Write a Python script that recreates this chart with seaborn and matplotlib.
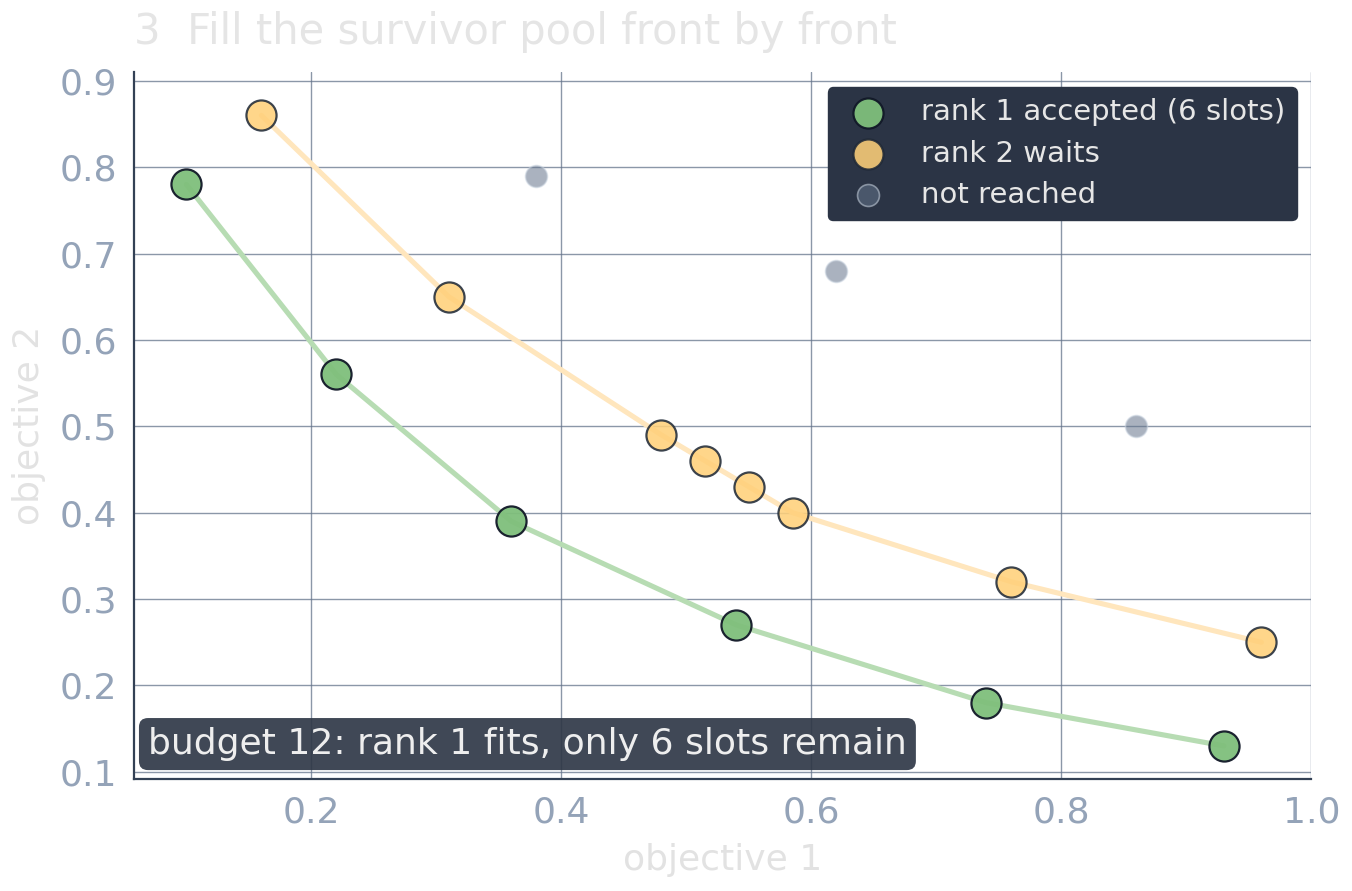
import matplotlib
matplotlib.use('Agg')
import matplotlib.pyplot as plt
import seaborn as sns
import pandas as pd

# rank 1 front (accepted)
rank1_x = [0.10, 0.22, 0.36, 0.54, 0.74, 0.93]
rank1_y = [0.78, 0.56, 0.39, 0.27, 0.18, 0.13]
# rank 2 front (waits)
rank2_x = [0.16, 0.31, 0.48, 0.515, 0.55, 0.585, 0.76, 0.96]
rank2_y = [0.86, 0.65, 0.49, 0.46, 0.43, 0.40, 0.32, 0.25]
# points never reached
rest_x = [0.38, 0.62, 0.86]
rest_y = [0.79, 0.68, 0.50]

x_ticks = [0.2, 0.4, 0.6, 0.8, 1.0]
y_ticks = [0.1, 0.2, 0.3, 0.4, 0.5, 0.6, 0.7, 0.8, 0.9]

sns.set_theme(style='whitegrid')
plt.rcParams['font.family'] = ['DejaVu Sans']

df1 = pd.DataFrame({'f1': rank1_x, 'f2': rank1_y})
df2 = pd.DataFrame({'f1': rank2_x, 'f2': rank2_y})
df3 = pd.DataFrame({'f1': rest_x, 'f2': rest_y})

fig = plt.figure(figsize=(13.52, 8.91), dpi=100)
ax = fig.add_axes([0.099, 0.126, 0.871, 0.793])

sns.lineplot(data=df1, x='f1', y='f2', color='#b7dcb3', linewidth=3.7, ax=ax, zorder=2)
sns.lineplot(data=df2, x='f1', y='f2', color='#ffe6bd', linewidth=3.7, ax=ax, zorder=2)

sns.scatterplot(data=df1, x='f1', y='f2', color='#7fbf7b', edgecolor='#111827', linewidth=1.6,
                s=470, alpha=0.95, ax=ax, zorder=4, label='rank 1 accepted (6 slots)')
sns.scatterplot(data=df2, x='f1', y='f2', color='#ffd079', edgecolor='#1f2937', linewidth=1.6,
                s=470, alpha=0.87, ax=ax, zorder=4, label='rank 2 waits')
sns.scatterplot(data=df3, x='f1', y='f2', color='#64748b', edgecolor='#cbd5e1', linewidth=1.2,
                s=250, alpha=0.55, ax=ax, zorder=3, label='not reached')

ax.set_xlim(0.058, 1.0)
ax.set_ylim(0.092, 0.91)
ax.set_xticks(x_ticks)
ax.set_yticks(y_ticks)
ax.set_xticklabels([f'{v:.1f}' for v in x_ticks])
ax.set_yticklabels([f'{v:.1f}' for v in y_ticks])

ax.grid(True, color='#64748b', alpha=0.75, linewidth=1.0)
ax.set_axisbelow(True)
for side in ['top', 'right']:
    ax.spines[side].set_visible(False)
for side in ['left', 'bottom']:
    ax.spines[side].set_color('#334155')
    ax.spines[side].set_linewidth(1.6)
ax.tick_params(axis='both', colors='#94a3b8', labelsize=26, length=7, width=1.4, pad=5)

ax.set_xlabel('objective 1', fontsize=26, color='#e2e2e2', labelpad=10)
ax.set_ylabel('objective 2', fontsize=26, color='#e2e2e2', labelpad=10)
ax.set_title('3  Fill the survivor pool front by front', loc='left', fontsize=30,
             color='#e5e5e5', pad=20)

leg = ax.legend(loc='upper right', fontsize=21, frameon=True, facecolor='#2b3445',
                edgecolor='#2b3445', framealpha=1.0, labelspacing=0.45)
for t in leg.get_texts():
    t.set_color('#e6e6e6')

ax.text(0.012, 0.025, 'budget 12: rank 1 fits, only 6 slots remain', transform=ax.transAxes,
        fontsize=26, color='#eeeeee', ha='left', va='bottom', zorder=6,
        bbox=dict(boxstyle='round,pad=0.25', facecolor='#2f3847', edgecolor='none', alpha=0.92))

plt.savefig('out.png', dpi=100)
plt.close()
